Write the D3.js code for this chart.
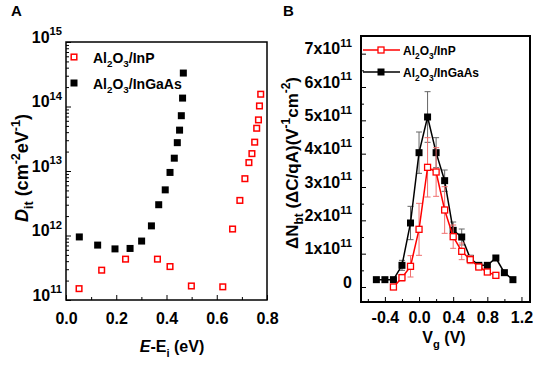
<!DOCTYPE html>
<html>
<head>
<meta charset="utf-8">
<script src="https://cdn.jsdelivr.net/npm/d3@7"></script>
<style>
body { margin: 0; background: #fff; }
svg { font-family: Arial, "Liberation Sans", sans-serif; font-weight: bold; }
</style>
</head>
<body>
<script>
// set svg
const width = 536,
      height = 367

const svg = d3.select("body")
  .append("svg")
    .attr("width", width)
    .attr("height", height)

// panel A data: Dit vs E-Ei
const eInP = [0.052, 0.142, 0.237, 0.364, 0.414, 0.499, 0.624, 0.663, 0.692, 0.712, 0.728, 0.740, 0.751, 0.759, 0.766, 0.770, 0.775]
const ditInP = [1.5e11, 2.9e11, 4.3e11, 4.3e11, 3.3e11, 1.65e11, 1.6e11, 1.26e12, 3.5e12, 7.6e12, 1.35e13, 1.86e13, 2.8e13, 4.6e13, 6.2e13, 1.02e14, 1.55e14]
const eInGaAs = [0.053, 0.126, 0.195, 0.255, 0.301, 0.340, 0.369, 0.395, 0.414, 0.431, 0.443, 0.452, 0.459, 0.464, 0.467]
const ditInGaAs = [9.5e11, 7.1e11, 6.2e11, 6.3e11, 8.2e11, 1.41e12, 3.0e12, 5.1e12, 9.5e12, 1.58e13, 2.75e13, 4.3e13, 7.2e13, 1.35e14, 3.3e14]

// panel B data: border traps vs Vg
const vgInP = [-0.3, -0.2, -0.1, 0.0, 0.1, 0.2, 0.3, 0.4, 0.5, 0.6, 0.7, 0.8, 0.9]
const nbtInP = [0.0, 0.28e11, 0.62e11, 1.73e11, 3.59e11, 3.45e11, 2.31e11, 1.51e11, 1.07e11, 0.82e11, 0.60e11, 0.45e11, 0.35e11]
const errInP = [0.05e11, 0.1e11, 0.32e11, 0.78e11, 0.89e11, 0.73e11, 0.7e11, 0.35e11, 0.25e11, 0.12e11, 0.08e11, 0.06e11, 0.04e11]
const vgInGaAs = [-0.5, -0.4, -0.3, -0.2, -0.1, 0.0, 0.1, 0.2, 0.3, 0.4, 0.5, 0.6, 0.7, 0.8, 0.9, 1.0, 1.1]
const nbtInGaAs = [0.22e11, 0.22e11, 0.22e11, 0.65e11, 1.92e11, 4.03e11, 5.10e11, 4.03e11, 3.19e11, 1.70e11, 1.50e11, 0.86e11, 0.65e11, 0.65e11, 0.87e11, 0.43e11, 0.22e11]
const errInGaAs = [0, 0, 0.03e11, 0.15e11, 0.5e11, 0.62e11, 0.76e11, 0.45e11, 0.32e11, 0.25e11, 0.24e11, 0.06e11, 0.04e11, 0.03e11, 0.07e11, 0, 0]

const names = ["Al2O3/InP", "Al2O3/InGaAs"]
const red = "#f00"

// text with sub / sup / italic parts
function rich(text, parts, size) {
  let shift = 0
  parts.forEach(function(p) {
    const target = p.sub ? size * 0.3 : p.sup ? -size * 0.45 : 0
    const ts = text.append("tspan")
      .attr("dy", target - shift)
      .attr("font-size", p.sub || p.sup ? size * 0.7 : size)
      .text(p.t)
    if (p.it) ts.attr("font-style", "italic")
    shift = target
  })
}
// digits in a formula become subscripts
const chem = name => name.split(/(\d)/).filter(s => s).map(s => ({t: s, sub: /\d/.test(s)}))

// ---------- panel A ----------
const xA = d3.scaleLinear().domain([0, 0.8]).range([66, 267])
const yA = d3.scaleLog().domain([1e11, 1e15]).range([300, 42])

svg.append("g")
    .attr("transform", "translate(0,300)")
    .call(d3.axisBottom(xA).tickValues([0, 0.2, 0.4, 0.6, 0.8]).tickSize(-5).tickPadding(13).tickFormat(d3.format(".1f")))
    .call(g => g.select(".domain").remove())
    .call(g => g.selectAll("text").attr("font-size", 16).attr("font-family", null))
svg.append("g")
    .attr("transform", "translate(0,300)")
    .call(d3.axisBottom(xA).tickValues([0.1, 0.3, 0.5, 0.7]).tickSize(-3).tickFormat(""))
    .call(g => g.select(".domain").remove())

const minorA = []
d3.range(11, 15).forEach(n => d3.range(2, 10).forEach(k => minorA.push(k * Math.pow(10, n))))
svg.append("g")
    .attr("transform", "translate(66,0)")
    .call(d3.axisLeft(yA).tickValues(minorA).tickSize(-3).tickFormat(""))
    .call(g => g.select(".domain").remove())
svg.append("g")
    .attr("transform", "translate(66,0)")
    .call(d3.axisLeft(yA).tickValues([1e11, 1e12, 1e13, 1e14, 1e15]).tickSize(-5).tickPadding(4))
    .call(g => g.select(".domain").remove())
    .call(g => g.selectAll("text").attr("font-family", null).attr("dy", "0.4em").text(null)
      .each(function(d) { rich(d3.select(this), [{t: "10"}, {t: Math.round(Math.log10(d)), sup: true}], 16) }))

svg.append("rect")
    .attr("x", 66).attr("y", 42)
    .attr("width", 201).attr("height", 258)
    .attr("fill", "none").attr("stroke", "#000").attr("stroke-width", 1.5)

// markers
svg.append("g")
  .selectAll("rect")
  .data(d3.zip(eInP, ditInP))
  .join("rect")
    .attr("x", d => xA(d[0]) - 2.8).attr("y", d => yA(d[1]) - 2.8)
    .attr("width", 5.6).attr("height", 5.6)
    .attr("fill", "#fff").attr("stroke", red).attr("stroke-width", 1.5)
svg.append("g")
  .selectAll("rect")
  .data(d3.zip(eInGaAs, ditInGaAs))
  .join("rect")
    .attr("x", d => xA(d[0]) - 3.5).attr("y", d => yA(d[1]) - 3.5)
    .attr("width", 7).attr("height", 7)
    .attr("fill", "#000")

// legend A
svg.append("rect").attr("x", 71.2).attr("y", 54.2).attr("width", 5.6).attr("height", 5.6)
    .attr("fill", "#fff").attr("stroke", red).attr("stroke-width", 1.5)
svg.append("rect").attr("x", 70.5).attr("y", 79.5).attr("width", 7).attr("height", 7).attr("fill", "#000")
names.forEach(function(n, i) {
  rich(svg.append("text").attr("x", 93).attr("y", 63 + i * 26), chem(n), 14)
})

// labels A
rich(svg.append("text").attr("transform", "translate(28,168) rotate(-90)").attr("text-anchor", "middle"),
  [{t: "D", it: true}, {t: "it", sub: true}, {t: " (cm"}, {t: "-2", sup: true}, {t: "eV"}, {t: "-1", sup: true}, {t: ")"}], 18)
rich(svg.append("text").attr("x", 172).attr("y", 352).attr("text-anchor", "middle"),
  [{t: "E", it: true}, {t: "-E"}, {t: "i", sub: true}, {t: " (eV)"}], 16)
svg.append("text").attr("x", 11).attr("y", 16).attr("font-size", 15).text("A")

// ---------- panel B ----------
const xB = d3.scaleLinear().domain([-0.68, 1.3]).range([361, 530])
const yB = d3.scaleLinear().domain([-0.45e11, 7.53e11]).range([302, 36])

svg.append("g")
    .attr("transform", "translate(0,302)")
    .call(d3.axisBottom(xB).tickValues([-0.4, 0, 0.4, 0.8, 1.2]).tickSize(-5).tickPadding(10).tickFormat(d3.format(".1f")))
    .call(g => g.select(".domain").remove())
    .call(g => g.selectAll("text").attr("font-size", 16).attr("font-family", null).text(d => d3.format(".1f")(d).replace("−", "-")))
svg.append("g")
    .attr("transform", "translate(0,302)")
    .call(d3.axisBottom(xB).tickValues([-0.6, -0.2, 0.2, 0.6, 1.0]).tickSize(-3).tickFormat(""))
    .call(g => g.select(".domain").remove())
svg.append("g")
    .attr("transform", "translate(361,0)")
    .call(d3.axisLeft(yB).tickValues(d3.range(0.5, 7.5, 1).map(v => v * 1e11)).tickSize(-3).tickFormat(""))
    .call(g => g.select(".domain").remove())
svg.append("g")
    .attr("transform", "translate(361,0)")
    .call(d3.axisLeft(yB).tickValues(d3.range(0, 8).map(v => v * 1e11)).tickSize(-5).tickPadding(9))
    .call(g => g.select(".domain").remove())
    .call(g => g.selectAll("text").attr("font-family", null).attr("dy", "0.4em").text(null)
      .each(function(d) {
        const v = Math.round(d / 1e11)
        rich(d3.select(this), v === 0 ? [{t: "0"}] : [{t: v + "x10"}, {t: "11", sup: true}], 16)
      }))

svg.append("rect")
    .attr("x", 361).attr("y", 36)
    .attr("width", 169).attr("height", 266)
    .attr("fill", "none").attr("stroke", "#000").attr("stroke-width", 2)

// error bars, lines and markers
function series(vg, nbt, err, color, errColor, hollow, size) {
  const rows = d3.zip(vg, nbt, err)
  const g = svg.append("g")
  const eb = g.append("g").attr("stroke", errColor).attr("stroke-width", 1)
  rows.filter(d => d[2] > 0).forEach(function(d) {
    const x = xB(d[0]), y0 = yB(d[1] - d[2]), y1 = yB(d[1] + d[2])
    eb.append("line").attr("x1", x).attr("x2", x).attr("y1", y0).attr("y2", y1)
    eb.append("line").attr("x1", x - 3).attr("x2", x + 3).attr("y1", y0).attr("y2", y0)
    eb.append("line").attr("x1", x - 3).attr("x2", x + 3).attr("y1", y1).attr("y2", y1)
  })
  g.append("path")
      .datum(rows)
      .attr("fill", "none").attr("stroke", color).attr("stroke-width", 1.5)
      .attr("d", d3.line().x(d => xB(d[0])).y(d => yB(d[1])))
  g.selectAll(".pt")
    .data(rows)
    .join("rect")
      .attr("x", d => xB(d[0]) - size / 2).attr("y", d => yB(d[1]) - size / 2)
      .attr("width", size).attr("height", size)
      .attr("fill", hollow ? "#fff" : color)
      .attr("stroke", hollow ? color : "none").attr("stroke-width", 1.3)
}
series(vgInGaAs, nbtInGaAs, errInGaAs, "#000", "#666", false, 7)
series(vgInP, nbtInP, errInP, red, "#f07070", true, 6)

// legend B
const legB = [[red, true, 50], ["#000", false, 72]]
legB.forEach(function(l, i) {
  svg.append("line").attr("x1", 363).attr("x2", 400).attr("y1", l[2]).attr("y2", l[2])
      .attr("stroke", l[0]).attr("stroke-width", 1.5)
  const s = l[1] ? 6 : 7
  svg.append("rect").attr("x", 381 - s / 2).attr("y", l[2] - s / 2).attr("width", s).attr("height", s)
      .attr("fill", l[1] ? "#fff" : l[0]).attr("stroke", l[1] ? l[0] : "none").attr("stroke-width", 1.3)
  rich(svg.append("text").attr("x", 403).attr("y", l[2] + 5), chem(names[i]), 12)
})

// labels B
rich(svg.append("text").attr("transform", "translate(298,163) rotate(-90)").attr("text-anchor", "middle"),
  [{t: "ΔN"}, {t: "bt", sub: true}, {t: " (ΔC/qA)(V"}, {t: "-1", sup: true}, {t: "cm"}, {t: "-2", sup: true}, {t: ")"}], 17)
rich(svg.append("text").attr("x", 444).attr("y", 343).attr("text-anchor", "middle"),
  [{t: "V"}, {t: "g", sub: true}, {t: " (V)"}], 16)
svg.append("text").attr("x", 283).attr("y", 16).attr("font-size", 15).text("B")
</script>
</body>
</html>
